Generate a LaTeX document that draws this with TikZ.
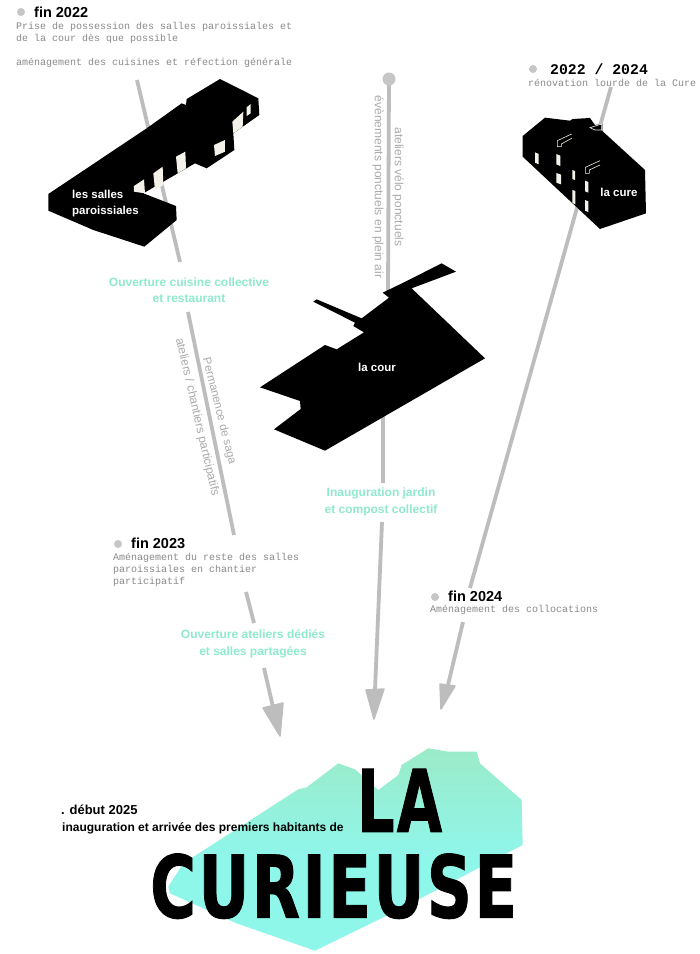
\documentclass[tikz,border=0pt]{standalone}
\usepackage{fontspec}
\setmainfont{Liberation Sans}
\newfontfamily\monof{Liberation Mono}
\newfontfamily\titlef[FakeBold=1.2,LetterSpace=4]{DejaVu Sans}
\definecolor{linegray}{HTML}{BDBDBD}
\definecolor{dotgray}{HTML}{C6C6C6}
\definecolor{descgray}{HTML}{8A8A8A}
\definecolor{rotgray}{HTML}{ABABAB}
\definecolor{teal1}{HTML}{8FE9CD}
\definecolor{blobtop}{HTML}{9BEBC8}
\definecolor{blobbot}{HTML}{8FF6EA}
\definecolor{winwhite}{HTML}{F4F2E8}
\pgfdeclareverticalshading{blobshade}{100bp}{color(0bp)=(blobbot); color(48bp)=(blobbot); color(75bp)=(blobtop); color(100bp)=(blobtop)}
\tikzset{
  conn/.style={draw=linegray,line width=3.8pt},
  head/.style={fill=linegray,draw=linegray,line width=1.5pt,line join=round},
  dotmark/.style={circle,fill=dotgray,inner sep=0pt,minimum size=8pt},
  desc/.style={font=\monof\fontsize{10}{12}\selectfont,text=descgray,align=left,inner sep=0pt,anchor=base west},
  yeartitle/.style={font=\bfseries\fontsize{14.5}{16}\selectfont,text=black,inner sep=0pt,anchor=base west},
  yearmono/.style={font=\monof\bfseries\fontsize{14.8}{16}\selectfont,text=black,inner sep=0pt,anchor=base west},
  rotlabel/.style={font=\fontsize{12}{13}\selectfont,text=rotgray,inner sep=0pt},
  milestone/.style={font=\bfseries\fontsize{12}{16.5}\selectfont,text=teal1,align=center,inner sep=0pt},
  inlabel/.style={font=\bfseries\fontsize{11.5}{16}\selectfont,text=white,align=left,inner sep=0pt},
  building/.style={fill=black},
  win/.style={fill=winwhite},
  zoomthree/.style={x=.33333pt,y=-.33333pt}
}
\begin{document}
\begin{tikzpicture}[x=1pt,y=-1pt]
\useasboundingbox (0,0) rectangle (700,954);
\fill[white] (0,0) rectangle (700,954);

% connector coordinates
\coordinate (a1) at (137,80);   \coordinate (a2) at (180,262);
\coordinate (a3) at (188,312);  \coordinate (a4) at (234,535);
\coordinate (a5) at (246,592);  \coordinate (a6) at (254,623);
\coordinate (a7) at (264,668);  \coordinate (a8) at (273,707);
\coordinate (b1) at (389,79);   \coordinate (b2) at (388,294);
\coordinate (b3) at (383,415);  \coordinate (b4) at (383,483);
\coordinate (b5) at (382,522);  \coordinate (b6) at (375,690);
\coordinate (c1) at (611,87);   \coordinate (c2) at (470,588);
\coordinate (c3) at (463,622);  \coordinate (c4) at (448,685);

\draw[conn] (a1)--(a2) (a3)--(a4) (a5)--(a6) (a7)--(a8);
\draw[conn] (b1)--(b2) (b3)--(b4) (b5)--(b6);
\draw[conn] (c1)--(c2) (c3)--(c4);
\filldraw[head] (263,708)--(283,703)--(280,736)--cycle;
\filldraw[head] (366,690)--(384,689)--(374,719)--cycle;
\filldraw[head] (440,684)--(455,686)--(441,709)--cycle;
\node[circle,fill=dotgray,inner sep=0pt,minimum size=13pt] (bdot) at (b1) {};

% les salles paroissiales
\begin{scope}[shift={(0,0)},zoomthree]
\fill[building] (145,582)--(440,385)--(545,310)--(558,315)--(560,297)--(660,237)--(775,295)--(778,345)--(700,400)--(703,450)--(620,505)--(585,490)--(430,580)--(528,618)--(530,660)--(433,740)--(280,690)--(145,632)--cycle;
\fill[win] (402,558)--(432,538)--(435,580)--(402,575)--cycle;
\fill[win] (460,520)--(488,500)--(490,555)--(465,570)--cycle;
\fill[win] (528,470)--(556,455)--(558,505)--(533,520)--cycle;
\fill[win] (642,435)--(675,420)--(675,455)--(645,468)--cycle;
\fill[win] (697,365)--(730,335)--(728,380)--(700,400)--cycle;
\fill[win] (740,322)--(752,312)--(752,340)--(740,348)--cycle;
\end{scope}
\node[inlabel,anchor=base west] (salles) at (72,214) {les salles\\paroissiales};

% la cure
\begin{scope}[shift={(350,50)},zoomthree]
\fill[building] (518,258)--(585,203)--(660,212)--(668,207)--(720,204)--(735,225)--(757,222)--(757,243)--(885,360)--(888,490)--(750,537)--(518,320)--cycle;
\fill[win] (555,307)--(566,312)--(566,343)--(555,338)--cycle;
\fill[win] (619,312)--(631,317)--(631,348)--(619,343)--cycle;
\fill[win] (619,369)--(633,374)--(633,403)--(619,398)--cycle;
\fill[win] (667,360)--(675,363)--(675,390)--(667,387)--cycle;
\fill[win] (667,420)--(676,423)--(676,463)--(667,459)--cycle;
\fill[win] (705,392)--(715,396)--(715,428)--(705,424)--cycle;
\fill[win] (705,450)--(715,454)--(715,486)--(705,482)--cycle;
\draw[draw=winwhite,line width=.6pt] (622,272)--(665,252) (634,282)--(665,265) (622,272)--(622,290)--(634,290)--(634,282);
\draw[draw=winwhite,line width=.6pt] (706,352)--(750,332) (718,360)--(750,345) (706,352)--(706,370)--(718,370)--(718,360);
\draw[draw=winwhite,line width=.6pt] (720,233)--(755,222)--(755,240)--(735,240)--cycle;
\end{scope}
\node[inlabel] (cure) at (619,192) {la cure};

% la cour
\begin{scope}[shift={(90,260)},zoomthree]
\fill[building] (510,382)--(705,255)--(740,268)--(822,217)--(790,198)--(795,188)--(670,125)--(680,118)--(815,175)--(897,113)--(878,98)--(940,68)--(1055,10)--(1098,35)--(965,85)--(1185,295)--(705,572)--(552,508)--(632,447)--(630,423)--cycle;
\end{scope}
\node[inlabel] (cour) at (377,367) {la cour};

% blob
\begin{scope}[shift={(40,730)},zoomthree]
\shade[shading=blobshade] (895,100)--(945,118)--(1015,180)--(1075,135)--(1085,105)--(1165,55)--(1225,65)--(1310,65)--(1320,100)--(1445,210)--(1448,345)--(1075,540)--(825,662)--(590,580)--(390,490)--(385,470)--(430,400)--(775,178)--(800,172)--cycle;
\end{scope}

% top-left block
\node[dotmark] (d22) at (21,12) {};
\node[yeartitle] (t22) at (34,17) {fin 2022};
\node[desc] (x22a) at (16,29) {Prise de possession des salles paroissiales et};
\node[desc] (x22b) at (16,41) {de la cour dès que possible};
\node[desc] (x22c) at (16,65) {aménagement des cuisines et réfection générale};

% cure block
\node[dotmark] (d24) at (533,69) {};
\node[yearmono] (t24) at (550,74) {2022 / 2024};
\node[desc] (x24) at (528,86) {rénovation lourde de la Cure};

% 2023 block
\node[dotmark] (d23) at (118,544) {};
\node[yeartitle] (t23) at (131,548) {fin 2023};
\node[desc] (x23a) at (113,560) {Aménagement du reste des salles};
\node[desc] (x23b) at (113,572) {paroissiales en chantier};
\node[desc] (x23c) at (113,584) {participatif};

% 2024 block
\node[dotmark] (d24b) at (435,597) {};
\node[yeartitle] (t24b) at (448,601) {fin 2024};
\node[desc] (x24b) at (430,612) {Aménagement des collocations};

% rotated labels
\node[rotlabel,rotate=-90] (ev) at (378,187) {évènements ponctuels en plein air};
\node[rotlabel,rotate=-90] (av) at (398,187) {ateliers vélo ponctuels};
\node[rotlabel,rotate=-76,font=\fontsize{11.5}{13}\selectfont] (perm) at (219,411) {Permanence de saga};
\node[rotlabel,rotate=-77] (ach) at (197,417) {ateliers / chantiers participatifs};

% milestones
\node[milestone] (m1) at (189,290) {Ouverture cuisine collective\\et restaurant};
\node[milestone] (m2) at (381,502) {Inauguration jardin\\et compost collectif};
\node[milestone] (m3) at (253,644) {Ouverture ateliers dédiés\\et salles partagées};

% bottom text
\node[font=\bfseries\fontsize{13}{14}\selectfont,inner sep=0pt,anchor=base west] (deb) at (61,814) {. début 2025};
\node[font=\bfseries\fontsize{12}{14}\selectfont,inner sep=0pt,anchor=base west] (ina) at (62,831) {inauguration et arrivée des premiers habitants de};
\node[inner sep=0pt,anchor=south west] (la) at (357,832) {\resizebox{85pt}{63pt}{\titlef\bfseries LA}};
\node[inner sep=0pt,anchor=south west] (cu) at (150,919) {\resizebox{367pt}{64pt}{\titlef\bfseries CURIEUSE}};
\end{tikzpicture}
\end{document}
